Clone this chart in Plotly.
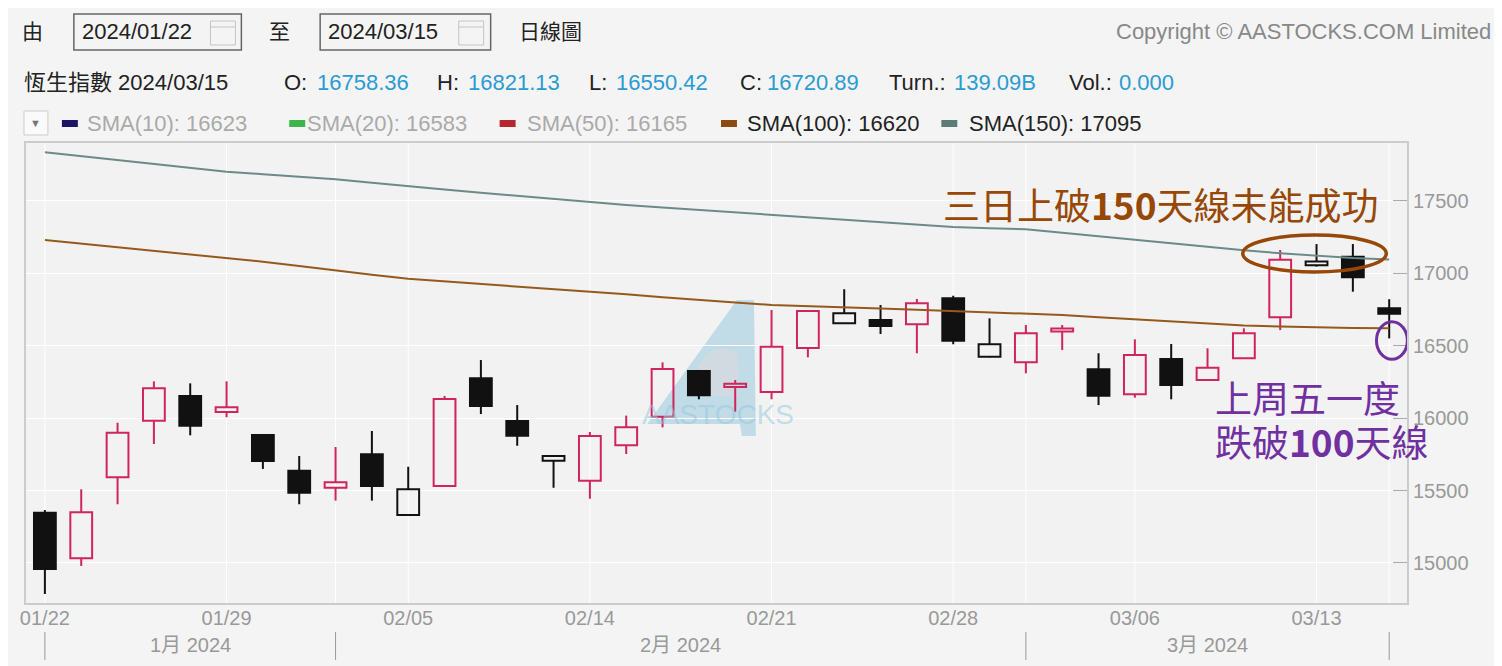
import plotly.graph_objects as go

# ---------------- data ----------------
dates = ['01/22', '01/23', '01/24', '01/25', '01/26', '01/29', '01/30', '01/31',
         '02/01', '02/02', '02/05', '02/06', '02/07', '02/08', '02/09',
         '02/14', '02/15', '02/16', '02/19', '02/20', '02/21', '02/22', '02/23',
         '02/26', '02/27', '02/28', '02/29', '03/01', '03/04', '03/05', '03/06',
         '03/07', '03/08', '03/11', '03/12', '03/13', '03/14', '03/15']
opens = [15347, 15032, 15591, 15982, 16153, 16042, 15883, 15637, 15519, 15750,
         15331, 15531, 16275, 15980, 15706, 15568, 15812, 16010, 16325, 16215,
         16180, 16484, 16655, 16677, 16648, 16827, 16424, 16385, 16598, 16337,
         16164, 16408, 16263, 16413, 16696, 17055, 17115, 16758.36]
highs = [15365, 15508, 15968, 16254, 16240, 16254, 15890, 15738, 15800, 15911,
         15664, 16153, 16401, 16090, 15745, 15904, 16017, 16385, 16330, 16263,
         16747, 16745, 16890, 16781, 16823, 16845, 16689, 16643, 16643, 16448,
         16544, 16512, 16482, 16620, 17161, 17202, 17202, 16821.13]
lows = [14785, 14979, 15405, 15821, 15881, 16006, 15649, 15405, 15430, 15430,
        15331, 15525, 16028, 15809, 15519, 15443, 15752, 15936, 16130, 16044,
        16130, 16420, 16650, 16581, 16448, 16510, 16420, 16309, 16470, 16090,
        16141, 16130, 16260, 16410, 16608, 17046, 16873, 16550.42]
closes = [14958, 15350, 15899, 16206, 15948, 16075, 15704, 15485, 15557, 15531,
          15508, 16132, 16084, 15878, 15738, 15876, 15936, 16339, 16157, 16238,
          16493, 16740, 16724, 16636, 16793, 16535, 16510, 16586, 16619, 16155,
          16436, 16229, 16348, 16586, 17093, 17082, 16972, 16720.89]
sma100 = [17230, 17205, 17180, 17158, 17135, 17110, 17080, 17050, 17018, 16990,
          16962, 16945, 16925, 16908, 16890, 16873, 16855, 16835, 16815, 16798,
          16782, 16772, 16765, 16757, 16748, 16740, 16733, 16725, 16712, 16697,
          16683, 16667, 16652, 16640, 16632, 16626, 16622, 16620]
sma150 = [17836, 17810, 17783, 17756, 17729, 17702, 17685, 17667, 17649, 17625,
          17600, 17578, 17556, 17534, 17511, 17488, 17471, 17454, 17437, 17420,
          17403, 17391, 17374, 17357, 17340, 17320, 17312, 17304, 17280, 17255,
          17232, 17205, 17180, 17160, 17138, 17119, 17105, 17095]
y_ticks = [15000, 15500, 16000, 16500, 17000, 17500]
x_tick_idx = [0, 5, 10, 15, 20, 25, 30, 35]
month_labels = ['1月 2024', '2月 2024', '3月 2024']
month_bounds = [0, 8, 27, 37]
legend_items = [('SMA(10): 16623', '#1b1464', '#aaaaaa'),
                ('SMA(20): 16583', '#3db54a', '#aaaaaa'),
                ('SMA(50): 16165', '#b5272d', '#aaaaaa'),
                ('SMA(100): 16620', '#8b4a0f', '#222222'),
                ('SMA(150): 17095', '#5d7b77', '#222222')]
quote_items = [('O:', '16758.36'), ('H:', '16821.13'), ('L:', '16550.42'),
               ('C:', '16720.89'), ('Turn.:', '139.09B'), ('Vol.:', '0.000')]

# ---------------- geometry helpers ----------------
# the page body adds an 8px offset, so the figure is laid out 8px up/left
W, H = 1502, 666
L, R, T, B = 14, 103, 135, 71
PW, PH = W - L - R, H - T - B


def px(x):          # screen x -> paper
    return (x - 22) / PW


def py(y):          # screen y -> paper
    return (603 - y) / PH


RED = '#d0245c'
BLACK = '#111111'
FONT = 'Arial, Liberation Sans, Noto Sans CJK TC'
CJK = 'Noto Sans CJK TC'

idx = list(range(len(dates)))

# classify candles
groups = {'red': [], 'hollow_black': [], 'black': []}
for i in idx:
    o, c = opens[i], closes[i]
    prev = closes[i - 1] if i > 0 else o
    if c < o:
        groups['black'].append(i)
    elif c >= prev:
        groups['red'].append(i)
    else:
        groups['hollow_black'].append(i)

fig = go.Figure()

style = {'red': (RED, 'rgba(0,0,0,0)'),
         'hollow_black': (BLACK, 'rgba(0,0,0,0)'),
         'black': (BLACK, BLACK)}

for g, members in groups.items():
    line_c, fill_c = style[g]
    wx, wy = [], []
    for i in members:
        top = max(opens[i], closes[i])
        bot = min(opens[i], closes[i])
        wx += [i, i, None, i, i, None]
        wy += [highs[i], top, None, bot, lows[i], None]
    fig.add_trace(go.Scatter(x=wx, y=wy, mode='lines',
                             line=dict(color=line_c, width=2),
                             hoverinfo='skip', showlegend=False))
    fig.add_trace(go.Bar(
        x=members,
        y=[abs(closes[i] - opens[i]) for i in members],
        base=[min(opens[i], closes[i]) for i in members],
        width=0.6,
        marker=dict(color=fill_c, line=dict(color=line_c, width=2)),
        showlegend=False, hoverinfo='skip'))

fig.add_trace(go.Scatter(x=idx, y=sma150, mode='lines',
                         line=dict(color='#6b8b88', width=2), showlegend=False))
fig.add_trace(go.Scatter(x=idx, y=sma100, mode='lines',
                         line=dict(color='#95591d', width=2), showlegend=False))

shapes = []
annotations = []

# vertical gridlines (date ticks and month boundaries)
for gx in sorted(set(x_tick_idx + month_bounds)):
    shapes.append(dict(type='line', xref='x', yref='paper', x0=gx, x1=gx,
                       y0=0, y1=1, line=dict(color='#ffffff', width=1),
                       layer='below'))


# watermark
def path(points):
    return 'M ' + ' L '.join(f'{px(a):.4f},{py(b):.4f}' for a, b in points) + ' Z'


shapes.append(dict(type='path', xref='paper', yref='paper',
                   path=path([(645, 424), (735, 300), (752, 300), (754, 436),
                              (740, 436), (738, 424)]),
                   fillcolor='rgba(120,185,215,0.40)', line=dict(width=0),
                   layer='below'))
shapes.append(dict(type='path', xref='paper', yref='paper',
                   path=path([(697, 396), (697, 364), (707, 352), (722, 348),
                              (736, 354), (736, 396)]),
                   fillcolor='rgba(215,218,222,0.7)', line=dict(width=0),
                   layer='below'))
annotations.append(dict(xref='paper', yref='paper', x=px(716), y=py(415),
                        text='AASTOCKS', showarrow=False,
                        font=dict(family=FONT, size=28,
                                  color='rgba(150,200,222,0.55)'),
                        xanchor='center', yanchor='middle'))

# month separators & labels
for b in month_bounds:
    shapes.append(dict(type='line', xref='x', yref='paper', x0=b, x1=b,
                       y0=py(632), y1=py(660),
                       line=dict(color='#999999', width=1)))
for k, lab in enumerate(month_labels):
    annotations.append(dict(xref='x', yref='paper',
                            x=(month_bounds[k] + month_bounds[k + 1]) / 2,
                            y=py(645), text=lab, showarrow=False,
                            font=dict(family=FONT, size=20, color='#999999'),
                            xanchor='center', yanchor='middle'))

# highlight ellipse and circle
shapes.append(dict(type='circle', xref='x', yref='y', x0=32.97, x1=36.92,
                   y0=17009, y1=17264, line=dict(color='#974806', width=3.5)))
shapes.append(dict(type='circle', xref='x', yref='y', x0=36.65, x1=37.5,
                   y0=16406, y1=16666, line=dict(color='#7030A0', width=3)))

annotations.append(dict(xref='paper', yref='paper', x=px(940), y=py(204),
                        text='三日上破<b>150</b>天線未能成功', showarrow=False,
                        font=dict(family=CJK, size=37, color='#974806'),
                        xanchor='left', yanchor='middle'))
annotations.append(dict(xref='paper', yref='paper', x=px(1212), y=py(397),
                        text='上周五一度', showarrow=False,
                        font=dict(family=CJK, size=37, color='#7030A0'),
                        xanchor='left', yanchor='middle'))
annotations.append(dict(xref='paper', yref='paper', x=px(1212), y=py(441),
                        text='跌破<b>100</b>天線', showarrow=False,
                        font=dict(family=CJK, size=37, color='#7030A0'),
                        xanchor='left', yanchor='middle'))


# ---------------- header ----------------
def txt(x, y, s, color='#222222', size=21, anchor='left'):
    annotations.append(dict(xref='paper', yref='paper', x=px(x), y=py(y),
                            text=s, showarrow=False,
                            font=dict(family=FONT, size=size, color=color),
                            xanchor=anchor, yanchor='middle'))


def rect(x0, y0, x1, y1, color, width=1.5, fill='rgba(0,0,0,0)'):
    shapes.append(dict(type='rect', xref='paper', yref='paper',
                       x0=px(x0), x1=px(x1), y0=py(y1), y1=py(y0),
                       line=dict(color=color, width=width), fillcolor=fill))


def hline(x0, x1, y, color, width=1):
    shapes.append(dict(type='line', xref='paper', yref='paper',
                       x0=px(x0), x1=px(x1), y0=py(y), y1=py(y),
                       line=dict(color=color, width=width)))


txt(16, 32, '由')
rect(70, 14, 238, 50, '#666666')
txt(76, 32, '2024/01/22', size=22)
rect(207, 21, 232, 45, '#c4c4c4', 1)
hline(207, 232, 27, '#c4c4c4', 1)
txt(264, 32, '至')
rect(317, 14, 488, 50, '#666666')
txt(323, 32, '2024/03/15', size=22)
rect(456, 21, 481, 45, '#c4c4c4', 1)
hline(456, 481, 27, '#c4c4c4', 1)
txt(514, 32, '日線圖')
txt(1493, 32, 'Copyright © AASTOCKS.COM Limited', color='#888888', size=22,
    anchor='right')

txt(18, 82, '恆生指數 2024/03/15', size=22)
qx = [(279, 312), (432, 463), (585, 612), (736, 763), (885, 951), (1066, 1116)]
for (lab, val), (x1, x2) in zip(quote_items, qx):
    txt(x1, 82, lab, size=22)
    txt(x2, 82, val, color='#2a9bd3', size=22)

rect(20, 111, 44, 135, '#cccccc', 1, fill='#fafafa')
txt(32, 123, '▼', color='#777777', size=11, anchor='center')
lx = [(58, 81), (286, 302), (497, 522), (719, 743), (940, 966)]
for (lab, sw, tc), (x1, x2) in zip(legend_items, lx):
    shapes.append(dict(type='rect', xref='paper', yref='paper',
                       x0=px(x1), x1=px(x1 + 16), y0=py(127), y1=py(120),
                       line=dict(width=0), fillcolor=sw))
    txt(x2, 123, lab, color=tc, size=22)

fig.update_layout(
    width=W, height=H,
    margin=dict(l=L, r=R, t=T, b=B),
    paper_bgcolor='#f4f4f4', plot_bgcolor='#f2f2f2',
    barmode='overlay', showlegend=False,
    shapes=shapes, annotations=annotations,
    font=dict(family=FONT),
    xaxis=dict(range=[-0.52, 37.49], tickmode='array', tickvals=x_tick_idx,
               ticktext=[dates[i] for i in x_tick_idx], showgrid=False,
               zeroline=False, ticks='', showline=True, linecolor='#cccccc',
               linewidth=2, mirror=True, ticklabelstandoff=-4,
               tickfont=dict(family=FONT, size=20, color='#999999')),
    yaxis=dict(range=[14723, 17900], side='right', tickmode='array',
               tickvals=y_ticks, ticktext=[str(v) for v in y_ticks],
               showgrid=True, gridcolor='#ffffff',
               gridwidth=1, zeroline=False, ticks='inside', ticklen=14,
               tickcolor='#aaaaaa', showline=True, linecolor='#cccccc',
               linewidth=2, mirror=True,
               tickfont=dict(family=FONT, size=20, color='#999999')),
)

fig.write_html('out.html')
